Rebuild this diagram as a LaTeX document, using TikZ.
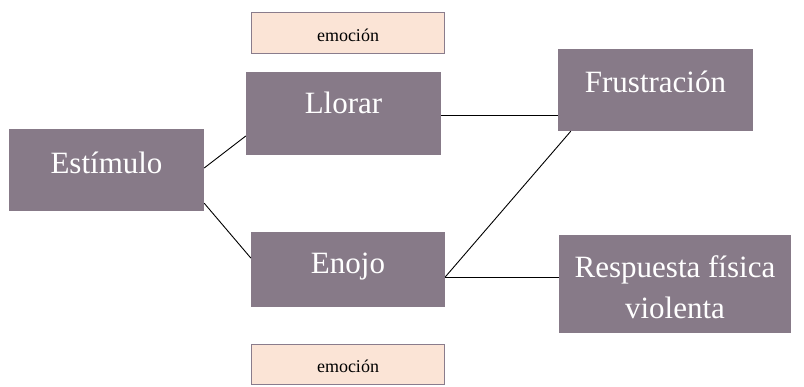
\documentclass[tikz,border=0pt]{standalone}
\usepackage{fontspec}
\setmainfont{Liberation Serif}
\usetikzlibrary{calc}
\definecolor{mauve}{HTML}{877A88}
\definecolor{peach}{HTML}{FBE4D6}
\definecolor{peachborder}{HTML}{8A7C8C}
\tikzset{
  mbox/.style={rectangle, fill=mauve, draw=none, inner sep=0pt},
  pbox/.style={rectangle, fill=peach, draw=peachborder, line width=1.8pt, inner sep=0pt},
  bigtxt/.style={anchor=base, text=white, font=\fontsize{31}{41}\selectfont, inner sep=0pt, align=center},
  smalltxt/.style={anchor=base, text=black, font=\fontsize{18}{22}\selectfont, inner sep=0pt},
  conn/.style={draw=black, line width=0.9pt}
}
\begin{document}
\begin{tikzpicture}[x=1pt,y=-1pt]
\useasboundingbox (0,0) rectangle (804,386);
% boxes
\node[pbox, minimum width=193pt, minimum height=41pt] (emoA) at (348,33) {};
\node[mbox, minimum width=195pt, minimum height=83pt] (llorar) at (343.5,113.5) {};
\node[mbox, minimum width=195pt, minimum height=82pt] (estimulo) at (106.5,170) {};
\node[mbox, minimum width=195pt, minimum height=82pt] (frust) at (655.5,90) {};
\node[mbox, minimum width=194pt, minimum height=75pt] (enojo) at (348,269.5) {};
\node[mbox, minimum width=232pt, minimum height=98pt] (resp) at (675,284) {};
\node[pbox, minimum width=193pt, minimum height=40pt] (emoB) at (348,364.5) {};
% texts
\node[smalltxt] (temoA) at (348,41.5) {emoción};
\node[bigtxt] (tllorar) at (343.5,113) {Llorar};
\node[bigtxt] (testimulo) at (106.5,173) {Estímulo};
\node[bigtxt] (tfrust) at (655.5,92) {Frustración};
\node[bigtxt] (tenojo) at (348,273) {Enojo};
\node[bigtxt] (tresp1) at (675,277) {Respuesta física};
\node[bigtxt] (tresp2) at (675,318) {violenta};
\node[smalltxt] (temoB) at (348,372) {emoción};
% connector end points
\coordinate (lloE) at ($(llorar.east)+(0,1.5)$);
\coordinate (enoE) at ($(enojo.east)+(0,7.5)$);
% connectors
\draw[conn] ($(estimulo.east)+(0,-2)$) -- ($(llorar.west)+(0,22.5)$);
\draw[conn] ($(estimulo.south east)+(0,-8)$) -- ($(enojo.west)+(0,-11.5)$);
\draw[conn] (lloE) -- (lloE -| frust.west);
\draw[conn] (enoE) -- ($(frust.south west)+(13,0)$);
\draw[conn] (enoE) -- (enoE -| resp.west);
\end{tikzpicture}
\end{document}
